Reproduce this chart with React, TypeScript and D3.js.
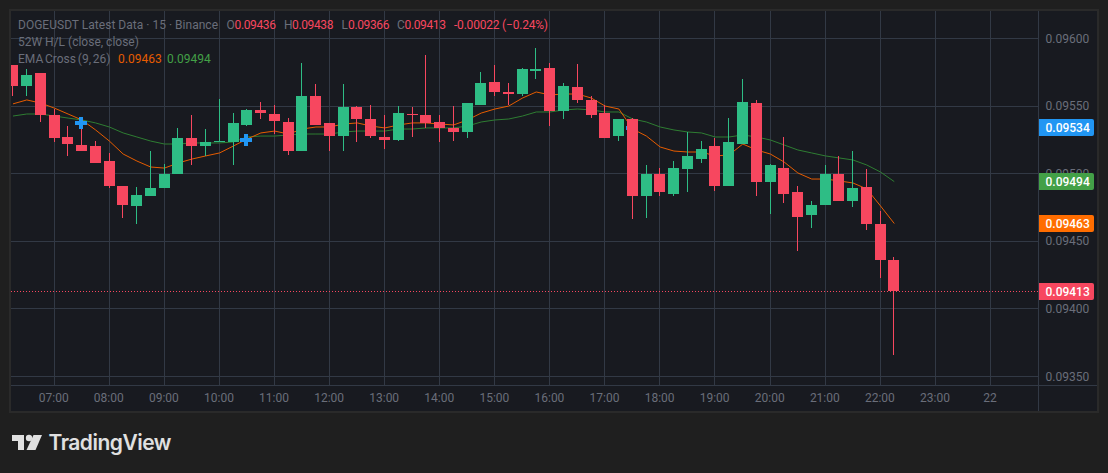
import React from "react";
import * as d3 from "d3";

// Prices are in units of 0.00001 (9600 = 0.09600)
const opens = [9580,9565,9574,9543,9527,9521,9520,9509,9491,9476,9483,9489,9500,9526,9520,9523,9523,9536,9547,9544,9538,9517,9557,9537,9528,9549,9540,9527,9525,9544,9543,9538,9534,9531,9551,9568,9560,9559,9576,9578,9546,9564,9554,9545,9528,9540,9483,9500,9485,9503,9511,9520,9491,9522,9552,9494,9504,9486,9469,9477,9500,9480,9490,9463,9436];
const highs = [9580,9577,9574,9548,9535,9540,9524,9515,9491,9490,9517,9507,9534,9543,9533,9555,9545,9548,9553,9551,9541,9582,9566,9537,9566,9550,9551,9543,9550,9549,9588,9543,9550,9552,9575,9580,9567,9578,9593,9582,9567,9581,9557,9551,9540,9541,9506,9504,9509,9531,9524,9526,9541,9570,9554,9507,9527,9491,9480,9506,9513,9517,9503,9472,9438];
const lows = [9557,9557,9538,9523,9513,9517,9508,9489,9467,9463,9483,9489,9500,9506,9513,9523,9506,9535,9540,9529,9514,9517,9536,9517,9517,9523,9526,9518,9524,9527,9534,9523,9524,9526,9551,9557,9551,9557,9570,9535,9540,9552,9541,9526,9524,9466,9467,9483,9483,9486,9508,9487,9491,9522,9483,9470,9478,9443,9460,9477,9480,9475,9458,9423,9366];
const closes = [9565,9573,9543,9526,9522,9517,9508,9491,9477,9484,9489,9500,9526,9520,9523,9524,9537,9547,9545,9539,9517,9557,9536,9528,9549,9540,9528,9525,9545,9543,9537,9534,9531,9552,9567,9560,9559,9577,9577,9546,9565,9554,9543,9526,9540,9483,9500,9486,9504,9513,9518,9491,9523,9553,9494,9506,9485,9468,9477,9500,9480,9489,9463,9436,9413];
const emaFast = [9551.5,9554.4,9552.1,9548.4,9544,9539.6,9532.2,9524,9514.4,9509.2,9504.8,9504,9507.8,9510.7,9513,9515.2,9520.3,9525.5,9530,9531.4,9529.2,9532.9,9534.4,9534.4,9536.6,9537.4,9535.1,9533.7,9535.9,9537.4,9537.4,9536.6,9535.9,9539.6,9544.7,9547.7,9549.9,9555.8,9560.3,9558.1,9558.8,9558.8,9555.8,9549.9,9547.7,9532.9,9527.7,9519.6,9516.6,9515.9,9515.9,9513,9513.7,9521.8,9517.4,9514.4,9508.5,9500.4,9495.9,9495.9,9494.5,9493,9488.6,9476,9463];
const emaSlow = [9542.5,9544,9544,9542.5,9541,9539.6,9537.4,9534.4,9530,9527,9524,9521.8,9521.8,9522.6,9522.6,9522.6,9523.3,9527,9527.7,9527.7,9528.5,9529.2,9529.2,9529.2,9530.7,9531.4,9531.4,9531.4,9532.9,9532.9,9533.7,9533.7,9533.7,9535.1,9538.1,9539.6,9540.3,9542.5,9545.5,9545.5,9547,9547.7,9547,9545.5,9545.5,9540.3,9538.1,9534.4,9532.2,9530.7,9530,9527,9527,9528.5,9527,9524.8,9521.1,9517.4,9515.2,9513,9511.5,9510,9506.3,9501.1,9494];
const crossBelowCandles = [{ index: 45, price: 9534 }];
const crossAboveCandles = [{ index: 5, price: 9537.4 }, { index: 17, price: 9524.8 }];
const priceTicks = [9600, 9550, 9500, 9450, 9400, 9350];
const timeLabels = ["07:00","08:00","09:00","10:00","11:00","12:00","13:00","14:00","15:00","16:00","17:00","18:00","19:00","20:00","21:00","22:00","23:00","22"];
const timeIndexes = timeLabels.map((_, i) => 3 + i * 4);
const lastLabels = [
  { price: 9534, color: "#2196f3" },
  { price: 9494, color: "#43a047" },
  { price: 9463, color: "#ff6d00" },
  { price: 9413, color: "#f7475f" },
];

const UP = "#2ebd85";
const DOWN = "#f7475f";
const GRID = "#323945";
const TEXT = "#6a6e7a";
const FONT = "Roboto, sans-serif";

const x = d3.scaleLinear().domain([0, 71]).range([12.7, 990.37]);
const y = d3.scaleLinear().domain([9600, 9350]).range([38.5, 376.5]);
const fmt = (v: number) => (v / 100000).toFixed(5);
const colX = (i: number) => Math.floor(x(i));
const gridY = (v: number) => Math.floor(y(v));
const markY = (v: number) => Math.round(y(v) - 0.2);

const lineOf = d3
  .line<number>()
  .x((_, i) => x(i) + 0.3)
  .y((d) => y(d) - 0.2);

function Cross({ index, price }: { index: number; price: number }) {
  const cx = colX(index);
  const cy = markY(price);
  return (
    <g fill="#2196f3" shapeRendering="crispEdges">
      <rect x={cx - 6} y={cy - 2} width={12} height={4} />
      <rect x={cx - 2} y={cy - 6} width={4} height={12} />
    </g>
  );
}

export default function App() {
  const paneLeft = 11;
  const paneRight = 1038;
  const paneTop = 11;
  const paneBottom = 385;
  return (
    <svg
      width={1108}
      height={473}
      style={{ position: "absolute", left: 0, top: 0, display: "block", fontFamily: FONT }}
    >
      <defs>
        <clipPath id="pane">
          <rect x={paneLeft} y={paneTop} width={paneRight - paneLeft} height={paneBottom - paneTop} />
        </clipPath>
      </defs>
      <rect width={1108} height={473} fill="#1f1f1f" />
      <rect x={10} y={10} width={1088} height={402} fill="#181a20" stroke="#2a2a2a" strokeWidth={2} />

      <g shapeRendering="crispEdges" stroke={GRID} strokeWidth={1}>
        {priceTicks.map((t) => (
          <line key={t} x1={paneLeft} x2={paneRight} y1={gridY(t) + 0.5} y2={gridY(t) + 0.5} />
        ))}
        {timeIndexes.map((i) => (
          <line key={i} x1={colX(i) + 0.5} x2={colX(i) + 0.5} y1={paneTop} y2={paneBottom} />
        ))}
        <line x1={paneRight + 0.5} x2={paneRight + 0.5} y1={paneTop} y2={411} />
        <line x1={paneLeft} x2={1097} y1={paneBottom + 0.5} y2={paneBottom + 0.5} />
      </g>

      <g clipPath="url(#pane)">
        <line
          x1={paneLeft}
          x2={paneRight}
          y1={291.5}
          y2={291.5}
          stroke={DOWN}
          strokeWidth={1}
          strokeDasharray="1 2"
          shapeRendering="crispEdges"
        />
        <path d={lineOf(emaSlow) ?? ""} fill="none" stroke="#2e7d32" strokeWidth={1} />
        <path d={lineOf(emaFast) ?? ""} fill="none" stroke="#e65c00" strokeWidth={1} />
        {crossBelowCandles.map((c) => (
          <Cross key={c.index} {...c} />
        ))}
        <g shapeRendering="crispEdges">
          {opens.map((o, i) => {
            const c = closes[i];
            const color = c >= o ? UP : DOWN;
            const cx = colX(i);
            const top = markY(Math.max(o, c));
            const bottom = markY(Math.min(o, c));
            return (
              <g key={i} fill={color}>
                <rect x={cx} y={markY(highs[i])} width={1} height={markY(lows[i]) - markY(highs[i])} />
                <rect x={cx - 5} y={top} width={11} height={Math.max(1, bottom - top)} />
              </g>
            );
          })}
        </g>
        {crossAboveCandles.map((c) => (
          <Cross key={c.index} {...c} />
        ))}
      </g>

      <g fontSize={12} fill={TEXT}>
        <text x={18} y={29} textLength={200} lengthAdjust="spacing">DOGEUSDT Latest Data · 15 · Binance</text>
        <text x={226.5} y={29}>O</text>
        <text x={234.5} y={29} fill={DOWN} textLength={41.5}>{fmt(opens[64])}</text>
        <text x={284} y={29}>H</text>
        <text x={292} y={29} fill={DOWN} textLength={41.5}>{fmt(highs[64])}</text>
        <text x={341.5} y={29}>L</text>
        <text x={348} y={29} fill={DOWN} textLength={41.5}>{fmt(lows[64])}</text>
        <text x={397} y={29}>C</text>
        <text x={404.5} y={29} fill={DOWN} textLength={41.5}>{fmt(closes[64])}</text>
        <text x={454} y={29} fill={DOWN} textLength={94}>-0.00022 (−0.24%)</text>
        <text x={18} y={46}>52W H/L (close, close)</text>
        <text x={18} y={63} wordSpacing={-1.2}>EMA Cross (9, 26)</text>
        <text x={118} y={63} fill="#e65c00">{fmt(emaFast[64])}</text>
        <text x={167} y={63} fill="#43a047">{fmt(emaSlow[64])}</text>
      </g>

      <g fontSize={12} fill={TEXT}>
        {priceTicks.map((t) => (
          <text key={t} x={1045.5} y={y(t) + 4}>{fmt(t)}</text>
        ))}
        {timeIndexes.map((i, k) => (
          <text key={i} x={x(i) - 0.3} y={402} textAnchor="middle">{timeLabels[k]}</text>
        ))}
      </g>

      {lastLabels.map((l) => {
        const cy = Math.floor(y(l.price)) + 0.5;
        return (
          <g key={l.price}>
            <path
              d={`M1039 ${cy - 8.5}H1092a2 2 0 0 1 2 2V${cy + 6.5}a2 2 0 0 1 -2 2H1039Z`}
              fill={l.color}
            />
            <text x={1045.5} y={cy + 4.3} fontSize={12} fontWeight={500} fill="#fff">{fmt(l.price)}</text>
          </g>
        );
      })}

      <g fill="#e0e0e0">
        <path d="M12 435H24V450H18V441H12Z" />
        <circle cx={29} cy={438} r={3.2} />
        <path d="M33.5 435H42L35.5 450H26.5Z" />
        <text x={48.5} y={450} fontSize={21} fontWeight={600} fontFamily="Inter, Roboto, sans-serif" letterSpacing={-0.5}>TradingView</text>
      </g>
    </svg>
  );
}
